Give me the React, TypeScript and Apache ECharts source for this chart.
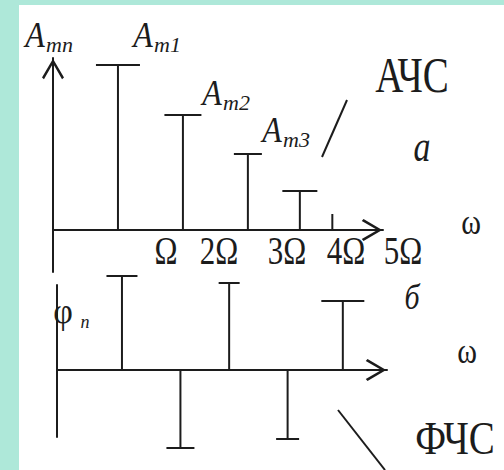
import React, { useEffect, useRef } from 'react';
import * as echarts from 'echarts';

// Amplitude spectrum (АЧС): harmonic positions in units of Ω and line heights
const AMP_X = [1, 2, 3, 3.8, 4.3];
const AMPLITUDES = [16.5, 11.5, 7.6, 3.9, 1.6];

// Phase spectrum (ФЧС): harmonic positions and signed phase values
const PHASE_X = [1.0, 1.9, 2.65, 3.55, 4.4];
const PHASES = [9.4, -7.8, 8.7, -6.9, 6.9];

// Frequency tick labels and amplitude subscripts
const FREQ_LABELS = ['Ω', '2Ω', '3Ω', '4Ω', '5Ω'];
const AMP_SUBS = ['mn', 'm1', 'm2', 'm3'];

// Styling
const INK = '#1c1c1c';
const FRAME = '#aee8d9';
const SERIF = 'Liberation Serif';
const AMP_CAPS = [44, 37, 28, 35, 0];
const PHASE_CAPS = [31, 28, 21, 23, 43];
const CHEVRON = 'path://M10,0 L20,17 L18.2,18.6 L10,4.4 L1.8,18.6 L0,17 Z';

const FREQ_LABEL_X = [166, 219, 287, 346, 403];
const AMP_LABEL_POS = [
  [35, 35],
  [143, 35],
  [212, 93],
  [272, 130],
];

const stemRenderer = (caps: number[]) => (params: any, api: any) => {
  const x = api.value(0);
  const v = api.value(1);
  const base = api.coord([x, 0]);
  const tip = api.coord([x, v]);
  const cap = caps[params.dataIndex] || 0;
  const children: any[] = [
    {
      type: 'line',
      shape: { x1: base[0], y1: base[1], x2: tip[0], y2: tip[1] },
      style: { stroke: INK, lineWidth: 2 },
    },
  ];
  if (cap > 0) {
    children.push({
      type: 'line',
      shape: { x1: tip[0] - cap / 2, y1: tip[1], x2: tip[0] + cap / 2, y2: tip[1] },
      style: { stroke: INK, lineWidth: 2 },
    });
  }
  return { type: 'group', children };
};

const text = (
  content: string,
  x: number,
  y: number,
  size: number,
  italic: boolean,
  scaleY: number,
  align: 'left' | 'center' = 'center'
) => ({
  type: 'text',
  x,
  y,
  scaleY,
  z: 10,
  style: {
    text: content,
    fontFamily: SERIF,
    fontSize: size,
    fontStyle: italic ? 'italic' : 'normal',
    fill: INK,
    align,
    verticalAlign: 'middle',
  },
});

const axisLine = (withArrow: boolean) => ({
  show: true,
  onZero: true,
  lineStyle: { color: INK, width: 2 },
  symbol: withArrow ? ['none', CHEVRON] : ['none', 'none'],
  symbolSize: [22, 22],
  symbolOffset: [0, -11],
});

const hidden = {
  axisTick: { show: false },
  axisLabel: { show: false },
  splitLine: { show: false },
};

export default function App() {
  const ref = useRef<HTMLDivElement>(null);

  useEffect(() => {
    if (!ref.current) return;
    const chart = echarts.init(ref.current, undefined, { renderer: 'svg' });

    const graphics: any[] = [];
    AMP_SUBS.forEach((sub, i) => {
      const [ax, ay] = AMP_LABEL_POS[i];
      graphics.push(text('A', ax, ay, 32, true, 1.1));
      graphics.push(text(sub, ax + 11, ay + 9, 22, true, 1.0, 'left'));
    });
    FREQ_LABELS.forEach((lab, i) => {
      graphics.push(text(lab, FREQ_LABEL_X[i], 251, 31, false, 1.3));
    });
    graphics.push(text('АЧС', 412, 75, 39, false, 1.3));
    graphics.push(text('a', 422, 146, 34, true, 1.3));
    graphics.push(text('ω', 471, 222, 30, false, 1.2));
    graphics.push(text('б', 412, 297, 30, true, 1.2));
    graphics.push(text('ω', 467, 351, 30, false, 1.2));
    graphics.push(text('ФЧС', 455, 438, 39, false, 1.2));
    graphics.push(text('φ', 63, 311, 34, false, 1.05));
    graphics.push(text('n', 85, 322, 18, true, 1.0));
    graphics.push({
      type: 'line',
      shape: { x1: 347, y1: 100, x2: 322, y2: 157 },
      style: { stroke: INK, lineWidth: 2 },
      z: 10,
    });
    graphics.push({
      type: 'line',
      shape: { x1: 338, y1: 410, x2: 385, y2: 470 },
      style: { stroke: INK, lineWidth: 2 },
      z: 10,
    });

    chart.setOption({
      animation: false,
      backgroundColor: 'transparent',
      grid: [
        { left: 53, top: 58, width: 330, height: 214 },
        { left: 57, top: 285, width: 330, height: 152 },
      ],
      xAxis: [
        { gridIndex: 0, type: 'value', min: 0, max: 5.08, axisLine: axisLine(true), ...hidden },
        { gridIndex: 1, type: 'value', min: 0, max: 5.08, axisLine: axisLine(true), ...hidden },
      ],
      yAxis: [
        { gridIndex: 0, type: 'value', min: -4.2, max: 17.2, axisLine: axisLine(true), ...hidden },
        { gridIndex: 1, type: 'value', min: -6.7, max: 8.5, axisLine: axisLine(false), ...hidden },
      ],
      series: [
        {
          type: 'custom',
          name: 'АЧС',
          xAxisIndex: 0,
          yAxisIndex: 0,
          clip: false,
          renderItem: stemRenderer(AMP_CAPS),
          data: AMP_X.map((x, i) => [x, AMPLITUDES[i]]),
        },
        {
          type: 'custom',
          name: 'ФЧС',
          xAxisIndex: 1,
          yAxisIndex: 1,
          clip: false,
          renderItem: stemRenderer(PHASE_CAPS),
          data: PHASE_X.map((x, i) => [x, PHASES[i]]),
        },
      ],
      graphic: graphics,
    });

    return () => chart.dispose();
  }, []);

  return (
    <div style={{ position: 'fixed', left: 0, top: 0, width: 504, height: 470, background: FRAME }}>
      <div style={{ position: 'absolute', left: 19, top: 5, right: 0, bottom: 0, background: '#ffffff' }} />
      <div ref={ref} style={{ position: 'absolute', left: 0, top: 0, width: 504, height: 470 }} />
    </div>
  );
}
